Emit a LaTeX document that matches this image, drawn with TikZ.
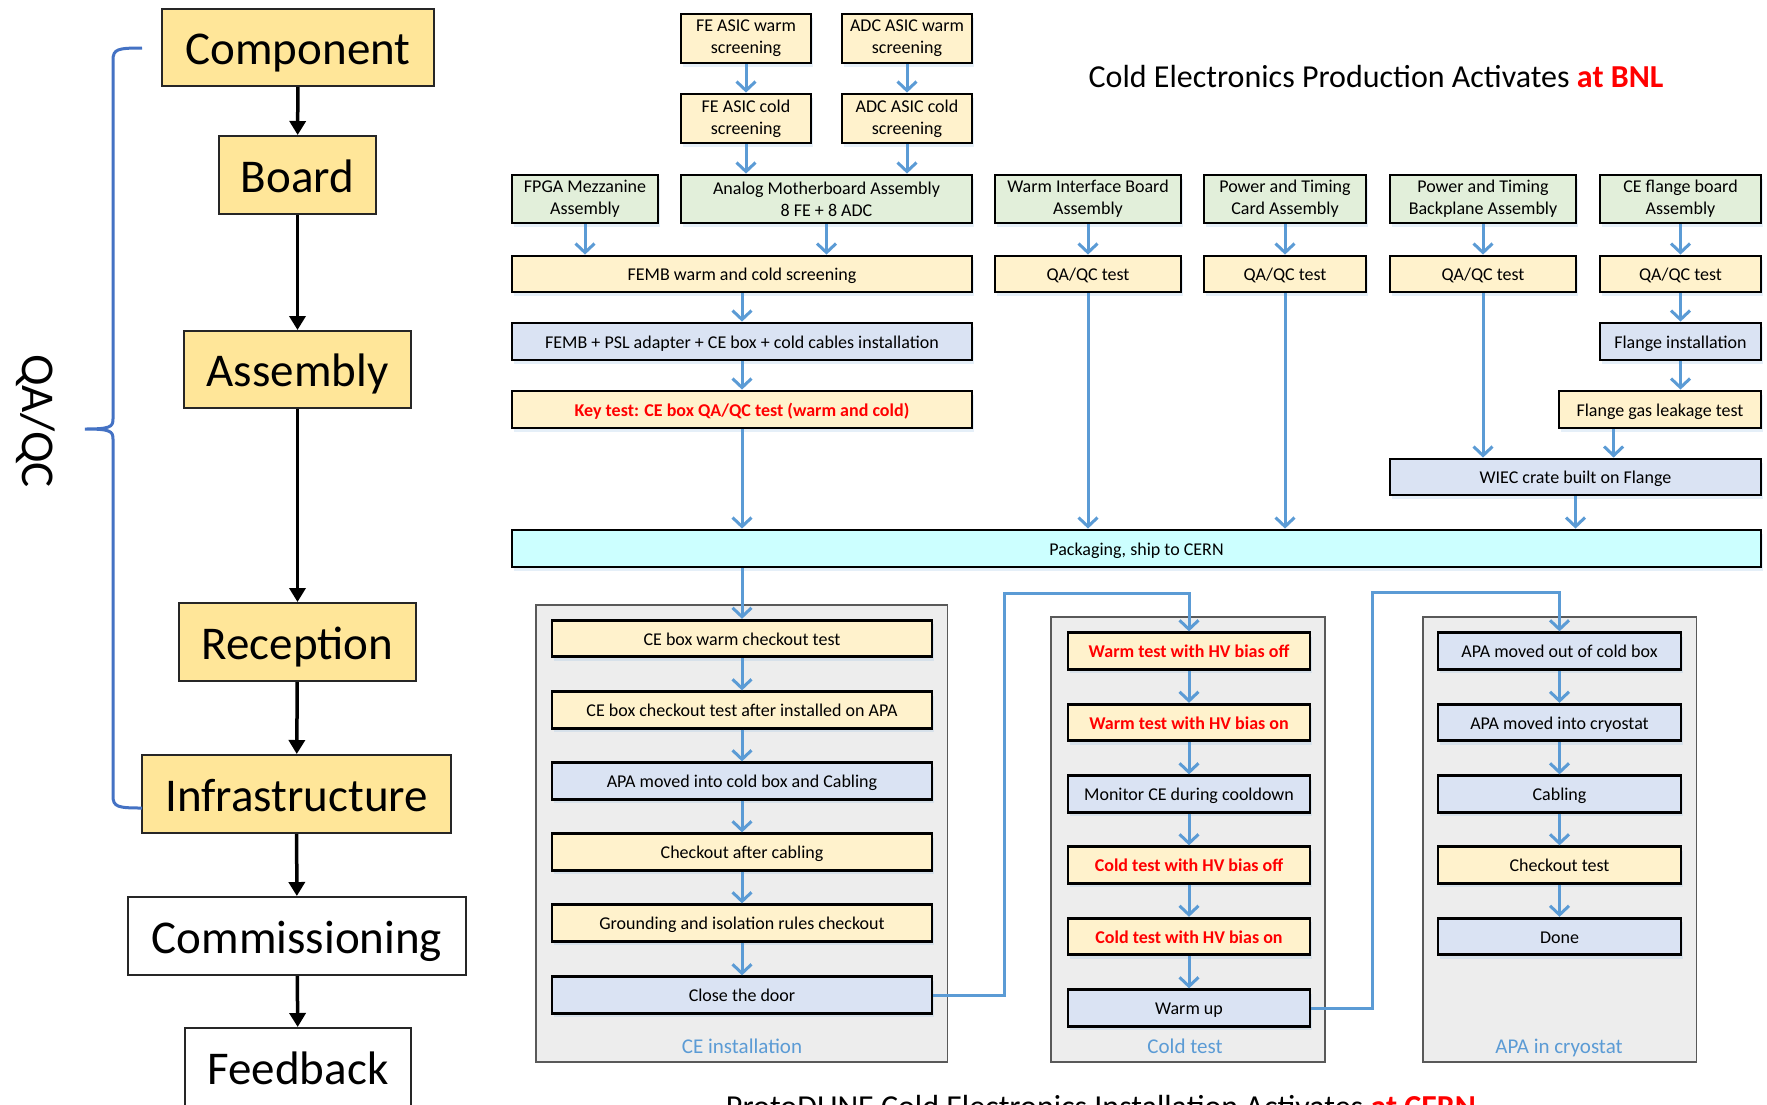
\documentclass[tikz,border=0pt]{standalone}
\usepackage{fontspec}
\setmainfont{Carlito}
\usetikzlibrary{arrows.meta,shadows}
\definecolor{gold}{HTML}{FFE699}
\definecolor{cream}{HTML}{FFF2CC}
\definecolor{pgreen}{HTML}{E2EFDA}
\definecolor{pblue}{HTML}{DAE3F3}
\definecolor{pcyan}{HTML}{CCFFFF}
\definecolor{grpfill}{HTML}{EDEDED}
\definecolor{arrblue}{HTML}{5B9BD5}
\definecolor{bracecol}{HTML}{4472C4}
\definecolor{redtxt}{HTML}{FF0000}
\tikzset{
  bigbox/.style={draw=black!85, line width=2pt, font=\fontsize{47}{56}\selectfont, inner sep=0pt,
    text height=40pt, text depth=6pt},
  sboxbase/.style={draw=black, line width=2.8pt, font=\fontsize{18}{22}\selectfont, align=center, inner sep=0pt,
    drop shadow={shadow xshift=1.5pt, shadow yshift=-4pt, opacity=0.22, fill=arrblue!70}},
  sbox/.style={sboxbase, text height=13pt, text depth=0pt},
  yb/.style={sbox, fill=cream},
  yb2/.style={sboxbase, fill=cream},
  gb2/.style={sboxbase, fill=pgreen},
  bb/.style={sbox, fill=pblue},
  cb/.style={sbox, fill=pcyan},
  redt/.style={text=redtxt, font=\fontsize{18}{22}\selectfont\bfseries},
  flow/.style={draw=arrblue, line width=3pt, -{Straight Barb[length=9pt,width=19pt]}},
  blk/.style={draw=black, line width=3.5pt, -{Triangle[length=14pt,width=16pt]}},
  grp/.style={draw=black!65, line width=1.5pt, fill=grpfill, inner sep=0pt},
  grplabel/.style={text=arrblue, font=\fontsize{21}{25}\selectfont, text height=14.7pt, text depth=0pt, inner sep=0pt},
  title/.style={font=\fontsize{32}{38}\selectfont, anchor=base}
}
\begin{document}
\begin{tikzpicture}[x=1pt,y=-1pt]
\useasboundingbox[fill=white] (0,0) rectangle (1767,1104);

% ---------------- left column ----------------
\node[bigbox, fill=gold, minimum width=272pt, minimum height=77pt] (comp) at (298,47.5) {Component};
\node[bigbox, fill=gold, minimum width=157pt, minimum height=78pt] (board) at (297.5,175) {Board};
\node[bigbox, fill=gold, minimum width=227pt, minimum height=77pt] (assem) at (297.5,369.5) {Assembly};
\node[bigbox, fill=gold, minimum width=237pt, minimum height=78pt] (recep) at (297.5,642) {Reception};
\node[bigbox, fill=gold, minimum width=309pt, minimum height=78pt] (infra) at (296.5,794) {Infrastructure};
\node[bigbox, fill=white, minimum width=338pt, minimum height=78pt] (comm) at (297,936) {Commissioning};
\node[bigbox, fill=white, minimum width=226pt, minimum height=78pt] (feed) at (298,1067) {Feedback};

\draw[blk] (comp) -- (board);
\draw[blk] (board) -- (assem);
\draw[blk] (assem) -- (recep);
\draw[blk] (recep) -- (infra);
\draw[blk] (infra) -- (comm);
\draw[blk] (comm) -- (feed);

% brace
\draw[bracecol, line width=3pt]
  (142,48) .. controls (118,48) and (113,49) .. (113,60) -- (113,419)
  .. controls (113,427) and (110,429) .. (85,429)
  .. controls (110,429) and (113,431) .. (113,439) -- (113,796)
  .. controls (113,807) and (118,808) .. (142,808);
\node[rotate=-90, font=\fontsize{47}{56}\selectfont] (qaqc) at (36,421) {QA/QC};

% ---------------- titles ----------------
\node[title] (t1) at (1376,87) {Cold Electronics Production Activates \textcolor{redtxt}{\bfseries at BNL}};
\node[title] (t2) at (1101,1117) {ProtoDUNE Cold Electronics Installation Activates \textcolor{redtxt}{\bfseries at CERN}};

% ---------------- BNL production ----------------
\node[yb2, minimum width=130pt, minimum height=49pt] (fewarm) at (746,38.5) {FE ASIC warm\\screening};
\node[yb2, minimum width=130pt, minimum height=49pt] (adcwarm) at (907,38.5) {ADC ASIC warm\\screening};
\node[yb2, minimum width=130pt, minimum height=49pt] (fecold) at (746,118.5) {FE ASIC cold\\screening};
\node[yb2, minimum width=130pt, minimum height=49pt] (adccold) at (907,118.5) {ADC ASIC cold\\screening};

\node[gb2, minimum width=146pt, minimum height=48pt] (fpga) at (585,199) {FPGA Mezzanine\\Assembly};
\node[gb2, minimum width=291pt, minimum height=48pt] (amb) at (826.5,199) {Analog Motherboard Assembly\\8 FE + 8 ADC};
\node[gb2, minimum width=186pt, minimum height=48pt] (wib) at (1088,199) {Warm Interface Board\\Assembly};
\node[gb2, minimum width=162pt, minimum height=48pt] (ptc) at (1285,199) {Power and Timing\\Card Assembly};
\node[gb2, minimum width=186pt, minimum height=48pt] (ptb) at (1483,199) {Power and Timing\\Backplane Assembly};
\node[gb2, minimum width=161pt, minimum height=48pt] (cefl) at (1680.5,199) {CE flange board\\Assembly};

\node[yb, minimum width=460pt, minimum height=36pt] (femb) at (742,274) {FEMB warm and cold screening};
\node[yb, minimum width=186pt, minimum height=36pt] (qa1) at (1088,274) {QA/QC test};
\node[yb, minimum width=162pt, minimum height=36pt] (qa2) at (1285,274) {QA/QC test};
\node[yb, minimum width=186pt, minimum height=36pt] (qa3) at (1483,274) {QA/QC test};
\node[yb, minimum width=161pt, minimum height=36pt] (qa4) at (1680.5,274) {QA/QC test};

\node[bb, minimum width=460pt, minimum height=37pt] (psl) at (742,341.5) {FEMB + PSL adapter + CE box + cold cables installation};
\node[bb, minimum width=161pt, minimum height=37pt] (flinst) at (1680.5,341.5) {Flange installation};
\node[yb, redt, minimum width=460pt, minimum height=37pt] (key) at (742,409.5) {Key test: CE box QA/QC test (warm and cold)};
\node[yb, minimum width=202pt, minimum height=37pt] (flgas) at (1660,409.5) {Flange gas leakage test};
\node[bb, minimum width=371pt, minimum height=36pt] (wiec) at (1575.5,477) {WIEC crate built on Flange};
\node[cb, minimum width=1249pt, minimum height=37pt] (pack) at (1136.5,548.5) {Packaging, ship to CERN};

\draw[flow] (fewarm) -- (fecold);
\draw[flow] (adcwarm) -- (adccold);
\draw[flow] (fecold.south) -- (fecold.south |- amb.north);
\draw[flow] (adccold.south) -- (adccold.south |- amb.north);
\draw[flow] (fpga.south) -- (fpga.south |- femb.north);
\draw[flow] (amb.south) -- (amb.south |- femb.north);
\draw[flow] (femb) -- (psl);
\draw[flow] (psl) -- (key);
\draw[flow] (key.south) -- (key.south |- pack.north);
\draw[flow] (wib) -- (qa1);
\draw[flow] (ptc) -- (qa2);
\draw[flow] (ptb) -- (qa3);
\draw[flow] (cefl) -- (qa4);
\draw[flow] (qa1.south) -- (qa1.south |- pack.north);
\draw[flow] (qa2.south) -- (qa2.south |- pack.north);
\draw[flow] (qa3.south) -- (qa3.south |- wiec.north);
\draw[flow] (qa4) -- (flinst);
\draw[flow] (flinst.south) -- (flinst.south |- flgas.north);
\draw[flow] ([xshift=56pt]flgas.south west) -- ([xshift=56pt]flgas.south west |- wiec.north);
\draw[flow] (wiec.south) -- (wiec.south |- pack.north);

% ---------------- CERN installation ----------------
\node[grp, minimum width=411.5pt, minimum height=457pt] (g1) at (741.75,833.5) {};
\node[grp, minimum width=274pt, minimum height=445pt] (g2) at (1188,839.5) {};
\node[grp, minimum width=273.5pt, minimum height=445pt] (g3) at (1559.75,839.5) {};
\node[grplabel] (g1l) at (742,1046) {CE installation};
\node[grplabel] (g2l) at (1185,1046) {Cold test};
\node[grplabel] (g3l) at (1559,1046) {APA in cryostat};

\node[yb, minimum width=380pt, minimum height=36.5pt] (ce1) at (742,638.5) {CE box warm checkout test};
\node[yb, minimum width=380pt, minimum height=36.5pt] (ce2) at (742,710) {CE box checkout test after installed on APA};
\node[bb, minimum width=380pt, minimum height=36.5pt] (ce3) at (742,781) {APA moved into cold box and Cabling};
\node[yb, minimum width=380pt, minimum height=36.5pt] (ce4) at (742,852) {Checkout after cabling};
\node[yb, minimum width=380pt, minimum height=36.5pt] (ce5) at (742,923) {Grounding and isolation rules checkout};
\node[bb, minimum width=380pt, minimum height=36.5pt] (ce6) at (742,995) {Close the door};

\node[yb, redt, minimum width=242pt, minimum height=36.5pt] (ct1) at (1189,651) {Warm test with HV bias off};
\node[yb, redt, minimum width=242pt, minimum height=36.5pt] (ct2) at (1189,722.5) {Warm test with HV bias on};
\node[bb, minimum width=242pt, minimum height=36.5pt] (ct3) at (1189,794) {Monitor CE during cooldown};
\node[yb, redt, minimum width=242pt, minimum height=36.5pt] (ct4) at (1189,865) {Cold test with HV bias off};
\node[yb, redt, minimum width=242pt, minimum height=36.5pt] (ct5) at (1189,936.5) {Cold test with HV bias on};
\node[bb, minimum width=242pt, minimum height=36.5pt] (ct6) at (1189,1008) {Warm up};

\node[bb, minimum width=243pt, minimum height=36.5pt] (ap1) at (1559.5,651) {APA moved out of cold box};
\node[bb, minimum width=243pt, minimum height=36.5pt] (ap2) at (1559.5,722.5) {APA moved into cryostat};
\node[bb, minimum width=243pt, minimum height=36.5pt] (ap3) at (1559.5,794) {Cabling};
\node[yb, minimum width=243pt, minimum height=36.5pt] (ap4) at (1559.5,865) {Checkout test};
\node[bb, minimum width=243pt, minimum height=36.5pt] (ap5) at (1559.5,936.5) {Done};

\draw[flow] (pack.south -| ce1.north) -- (ce1.north);
\draw[flow] (ce1) -- (ce2);
\draw[flow] (ce2) -- (ce3);
\draw[flow] (ce3) -- (ce4);
\draw[flow] (ce4) -- (ce5);
\draw[flow] (ce5) -- (ce6);
\draw[flow] (ct1) -- (ct2);
\draw[flow] (ct2) -- (ct3);
\draw[flow] (ct3) -- (ct4);
\draw[flow] (ct4) -- (ct5);
\draw[flow] (ct5) -- (ct6);
\draw[flow] (ap1) -- (ap2);
\draw[flow] (ap2) -- (ap3);
\draw[flow] (ap3) -- (ap4);
\draw[flow] (ap4) -- (ap5);

\coordinate (j1) at (1004,593);
\coordinate (j2) at (1372.5,592);
\draw[flow] (ce6.east) -| (j1) -| (ct1.north);
\draw[flow] (ct6.east) -| (j2) -| (ap1.north);
\end{tikzpicture}
\end{document}
